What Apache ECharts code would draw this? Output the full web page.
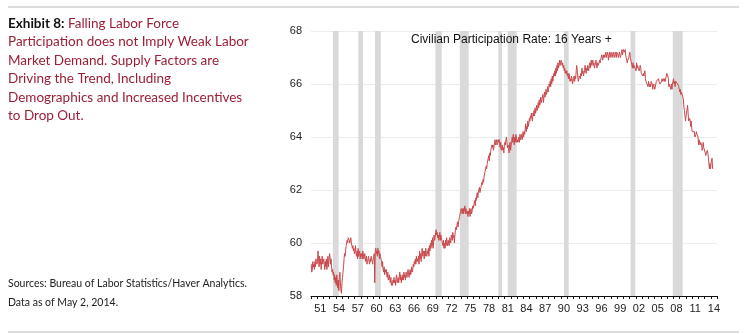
<!DOCTYPE html>
<html>
<head>
<meta charset="utf-8">
<script src="https://cdn.jsdelivr.net/npm/echarts@6/dist/echarts.min.js"></script>
<style>
  html, body { margin: 0; padding: 0; background: #fff; }
</style>
</head>
<body>
<!-- 为 ECharts 准备一个定义了宽高的 DOM -->
<div id="main" style="width: 750px;height:334px;"></div>
<script>
// civilian participation rate, 16 years +, monthly from Jan 1950
var startYear = 1950;
var rate1950s = [
  59.2, 58.9, 59.0, 59.3, 59.1, 59.2, 59.0, 59.3, 59.1, 59.4, 59.3, 59.2,
  59.3, 59.7, 59.4, 59.1, 59.5, 59.2, 59.4, 59.0, 59.3, 59.5, 59.2, 59.3,
  59.4, 59.2, 59.0, 59.3, 59.1, 59.4, 59.0, 59.2, 59.5, 59.1, 59.3, 59.6,
  59.5, 59.2, 59.4, 59.1, 58.9, 59.0, 58.8, 58.9, 58.6, 58.8, 58.5, 58.7,
  58.4, 58.8, 58.6, 58.3, 58.6, 58.2, 58.7, 58.9, 58.5, 58.2, 58.1, 58.5,
  58.7, 58.9, 59.1, 59.4, 59.6, 59.5, 59.7, 59.9, 60.0, 60.1, 60.0, 60.2,
  60.2, 60.1, 60.0, 60.1, 60.2, 60.0, 59.9, 59.8, 59.9, 59.7, 59.8, 59.6,
  59.7, 59.9, 59.6, 59.5, 59.7, 59.4, 59.8, 59.5, 59.6, 59.7, 59.4, 59.6,
  59.5, 59.6, 59.4, 59.7, 59.6, 59.4, 59.5, 59.6, 59.3, 59.4, 59.5, 59.2,
  59.3, 59.4, 59.5, 59.3, 59.2, 59.4, 59.3, 59.5, 59.4, 59.3, 59.2, 59.4
];
var rate1960s = [
  59.5, 59.6, 58.5, 59.7, 59.8, 59.6, 59.7, 59.5, 59.8, 59.6, 59.7, 59.4,
  59.6, 59.5, 59.4, 59.3, 59.1, 59.3, 59.0, 58.9, 59.1, 58.8, 59.0, 58.9,
  59.0, 58.8, 58.7, 58.9, 58.6, 58.7, 58.8, 58.6, 58.5, 58.7, 58.4, 58.5,
  58.4, 58.6, 58.5, 58.7, 58.5, 58.6, 58.4, 58.7, 58.8, 58.5, 58.6, 58.7,
  58.5, 58.7, 58.9, 58.6, 58.8, 58.5, 58.7, 58.6, 58.8, 58.6, 58.9, 58.7,
  58.8, 58.6, 58.9, 58.8, 58.7, 58.9, 59.0, 58.8, 58.7, 58.9, 59.0, 58.8,
  58.9, 59.1, 58.9, 59.0, 59.2, 59.1, 59.3, 59.2, 59.4, 59.2, 59.5, 59.3,
  59.4, 59.3, 59.5, 59.2, 59.7, 59.4, 59.6, 59.3, 59.5, 59.8, 59.5, 59.7,
  59.6, 59.4, 59.7, 59.5, 59.8, 59.6, 59.5, 59.7, 59.6, 59.8, 59.5, 59.9,
  59.7, 60.0, 59.8, 60.1, 59.9, 60.2, 59.8, 60.0, 60.3, 60.1, 60.2, 60.4
];
var rate1970s = [
  60.5, 60.3, 60.4, 60.2, 60.3, 60.1, 60.2, 60.4, 60.1, 60.3, 60.2, 60.1,
  60.0, 59.9, 60.1, 59.8, 60.0, 59.8, 60.1, 59.9, 60.2, 60.0, 59.9, 60.1,
  60.0, 59.9, 60.2, 60.1, 60.0, 60.3, 60.2, 60.1, 60.4, 60.2, 60.3, 60.0,
  60.3, 60.5, 60.6, 60.5, 60.7, 60.8, 60.6, 60.8, 60.9, 61.0, 61.1, 61.2,
  61.3, 61.2, 61.1, 61.3, 61.1, 61.3, 61.2, 61.4, 61.1, 61.3, 61.2, 61.1,
  61.2, 61.0, 61.2, 61.1, 61.3, 61.0, 61.2, 61.3, 61.1, 61.2, 61.4, 61.3,
  61.4, 61.5, 61.6, 61.4, 61.7, 61.6, 61.8, 61.9, 61.7, 61.9, 62.0, 62.1,
  61.9, 62.0, 62.1, 62.2, 62.3, 62.2, 62.4, 62.3, 62.5, 62.6, 62.7, 62.8,
  62.9, 62.8, 63.0, 63.1, 63.2, 63.3, 63.1, 63.4, 63.3, 63.5, 63.6, 63.7,
  63.6, 63.7, 63.5, 63.6, 63.8, 63.9, 63.7, 63.8, 63.9, 63.7, 63.8, 63.9
];
var rate1980s = [
  63.8, 63.9, 63.7, 63.6, 63.8, 63.5, 63.6, 63.7, 63.5, 63.6, 63.4, 63.7,
  63.8, 63.7, 63.9, 64.0, 63.8, 63.6, 63.7, 63.6, 63.4, 63.7, 63.8, 63.5,
  63.7, 63.8, 64.0, 63.8, 64.1, 63.9, 63.7, 64.0, 63.8, 64.1, 64.0, 63.8,
  63.9, 63.8, 63.9, 64.0, 63.8, 64.1, 63.9, 64.0, 64.1, 63.9, 64.0, 64.2,
  64.0, 64.2, 64.1, 64.3, 64.5, 64.2, 64.4, 64.3, 64.6, 64.4, 64.5, 64.7,
  64.6, 64.8, 64.7, 64.9, 64.7, 64.6, 64.9, 64.8, 65.0, 64.8, 65.1, 64.9,
  65.0, 65.2, 65.0, 65.1, 65.3, 65.1, 65.4, 65.2, 65.3, 65.5, 65.3, 65.4,
  65.4, 65.6, 65.3, 65.5, 65.7, 65.5, 65.6, 65.8, 65.6, 65.7, 65.9, 65.7,
  65.8, 66.0, 65.9, 66.1, 65.9, 66.2, 66.0, 66.3, 66.1, 66.2, 66.4, 66.3,
  66.5, 66.3, 66.6, 66.4, 66.7, 66.5, 66.8, 66.6, 66.7, 66.9, 66.7, 66.8
];
var rate1990s = [
  66.9, 66.8, 66.7, 66.8, 66.6, 66.7, 66.5, 66.6, 66.4, 66.5, 66.4, 66.5,
  66.3, 66.4, 66.2, 66.4, 66.3, 66.1, 66.2, 66.1, 66.3, 66.2, 66.0, 66.1,
  66.2, 66.3, 66.1, 66.3, 66.2, 66.5, 66.7, 66.5, 66.3, 66.1, 66.2, 66.3,
  66.3, 66.2, 66.4, 66.3, 66.6, 66.4, 66.5, 66.3, 66.4, 66.5, 66.7, 66.5,
  66.4, 66.6, 66.5, 66.7, 66.6, 66.5, 66.7, 66.8, 66.6, 66.8, 66.9, 66.7,
  66.8, 66.9, 66.7, 66.8, 66.6, 66.7, 66.8, 66.9, 66.7, 66.6, 66.8, 66.7,
  66.7, 66.8, 66.9, 66.8, 66.9, 67.0, 67.1, 67.0, 66.9, 67.1, 67.0, 67.1,
  67.0, 67.1, 67.2, 67.0, 67.1, 67.2, 67.1, 66.9, 67.1, 67.2, 67.0, 67.1,
  67.2, 67.1, 67.0, 67.1, 67.2, 67.1, 67.0, 67.1, 67.2, 67.1, 67.0, 67.2,
  67.2, 67.1, 67.0, 67.1, 67.2, 67.1, 67.0, 67.1, 67.2, 67.3, 67.1, 67.2
];
var rate2000s = [
  67.3, 67.3, 67.2, 67.3, 67.1, 67.0, 66.9, 66.8, 66.9, 66.9, 67.0, 67.1,
  67.2, 67.0, 66.9, 66.8, 66.7, 66.6, 66.8, 66.6, 66.7, 66.7, 66.7, 66.7,
  66.5, 66.8, 66.6, 66.7, 66.6, 66.6, 66.5, 66.6, 66.7, 66.6, 66.4, 66.4,
  66.4, 66.3, 66.4, 66.3, 66.4, 66.5, 66.2, 66.1, 66.1, 66.1, 66.1, 65.9,
  66.1, 66.0, 65.9, 66.0, 65.9, 66.1, 66.1, 66.0, 65.8, 65.9, 66.0, 65.9,
  65.8, 65.9, 65.9, 66.1, 66.1, 66.1, 66.1, 66.2, 66.1, 66.1, 66.0, 66.0,
  66.0, 66.1, 66.2, 66.1, 66.1, 66.2, 66.1, 66.2, 66.1, 66.2, 66.3, 66.4,
  66.4, 66.3, 66.2, 65.9, 66.0, 66.0, 66.0, 65.8, 66.0, 65.8, 66.0, 66.0,
  66.2, 66.0, 66.1, 65.9, 66.1, 66.1, 66.1, 66.1, 66.0, 66.0, 65.9, 65.8,
  65.7, 65.8, 65.6, 65.7, 65.7, 65.7, 65.5, 65.4, 65.1, 65.0, 65.0, 64.6
];
var rate2010s = [
  64.8, 64.9, 64.9, 65.2, 64.9, 64.6, 64.6, 64.7, 64.6, 64.4, 64.6, 64.3,
  64.2, 64.2, 64.2, 64.2, 64.2, 64.0, 64.0, 64.1, 64.2, 64.1, 64.1, 64.0,
  63.7, 63.9, 63.8, 63.7, 63.8, 63.8, 63.7, 63.5, 63.6, 63.8, 63.6, 63.6,
  63.6, 63.4, 63.3, 63.4, 63.4, 63.5, 63.4, 63.2, 63.2, 62.8, 63.0, 62.8,
  63.0, 63.0, 63.2, 62.8
];

// NBER recessions, [start, end] in decimal years
var recessions = [
  [1953.50, 1954.42], [1957.58, 1958.33], [1960.25, 1961.17],
  [1969.92, 1970.92], [1973.83, 1975.25], [1980.00, 1980.58],
  [1981.50, 1982.92], [1990.50, 1991.25], [2001.17, 2001.92],
  [2007.92, 2009.50]
];

// year categories for the x axis, labels every third year from 51
var years = [];
for (var y = 1950; y <= 2014; y++) years.push(y);
var yTicks = [58, 60, 62, 64, 66, 68];

var rates = [].concat(rate1950s, rate1960s, rate1970s, rate1980s, rate1990s, rate2000s, rate2010s);
var points = rates.map(function (v, i) {
  return [startYear + i / 12 + 1 / 24, v];
});

var myChart = echarts.init(document.getElementById('main'));

var redText = { fontFamily: 'Lato', fontSize: 13.5, fontWeight: 'normal', color: '#9b1f36', lineHeight: 18.5 };

var option = {
  animation: false,
  textStyle: { fontFamily: 'Liberation Sans, Arial, sans-serif' },
  title: [{
    left: 8,
    top: 14,
    padding: 0,
    text: '{b|Exhibit 8:} {r|Falling Labor Force}\n{r|Participation does not Imply Weak Labor}\n{r|Market Demand. Supply Factors are}\n{r|Driving the Trend, Including}\n{r|Demographics and Increased Incentives}\n{r|to Drop Out.}',
    textStyle: {
      fontFamily: 'Lato',
      fontSize: 13.5,
      fontWeight: 'normal',
      lineHeight: 18.5,
      rich: {
        b: { fontFamily: 'Lato', fontSize: 13.5, fontWeight: 'bold', color: '#111', lineHeight: 18.5 },
        r: redText
      }
    }
  }, {
    left: 8,
    top: 278,
    padding: 0,
    text: 'Sources: Bureau of Labor Statistics/Haver Analytics.',
    textStyle: { fontFamily: 'Lato', fontSize: 10.5, fontWeight: 'normal', color: '#222' }
  }, {
    left: 8,
    top: 297,
    padding: 0,
    text: 'Data as of May 2, 2014.',
    textStyle: { fontFamily: 'Lato', fontSize: 10.5, fontWeight: 'normal', color: '#222' }
  }, {
    left: 411,
    top: 34,
    padding: 0,
    text: 'Civilian Participation Rate: 16 Years +',
    textStyle: { fontFamily: 'Liberation Sans', fontSize: 12, fontWeight: 'normal', color: '#111' }
  }],
  graphic: [
    { type: 'rect', shape: { x: 8, y: 6, width: 731, height: 2 }, style: { fill: '#dcdcdc' } },
    { type: 'rect', shape: { x: 8, y: 331, width: 731, height: 2 }, style: { fill: '#dcdcdc' } }
  ],
  grid: { left: 311, right: 33, top: 31, bottom: 38 },
  xAxis: [{
    type: 'category',
    data: years,
    boundaryGap: true,
    axisLine: { lineStyle: { color: '#111', width: 1 } },
    axisTick: { show: true, interval: 0, length: 3, lineStyle: { color: '#111' } },
    axisLabel: {
      interval: function (index, value) { return (value - 1951) % 3 === 0; },
      formatter: function (value) { return String(value).slice(2); },
      fontSize: 11,
      color: '#222',
      margin: 7
    },
    splitLine: { show: false }
  }, {
    type: 'value',
    min: 1950,
    max: 2015,
    show: false
  }],
  yAxis: {
    type: 'value',
    min: yTicks[0],
    max: yTicks[yTicks.length - 1],
    interval: 2,
    axisLine: { show: false },
    axisTick: { show: false },
    axisLabel: { fontSize: 11, color: '#222', margin: 9 },
    splitLine: { lineStyle: { color: '#ececec', width: 1 } }
  },
  series: [{
    type: 'line',
    xAxisIndex: 1,
    data: points,
    showSymbol: false,
    lineStyle: { color: '#c9484b', width: 1 },
    markArea: {
      silent: true,
      itemStyle: { color: '#d9d9d9' },
      data: recessions.map(function (r) {
        return [{ xAxis: r[0], yAxis: yTicks[0] }, { xAxis: r[1], yAxis: yTicks[yTicks.length - 1] }];
      })
    }
  }]
};

myChart.setOption(option);
</script>
</body>
</html>
